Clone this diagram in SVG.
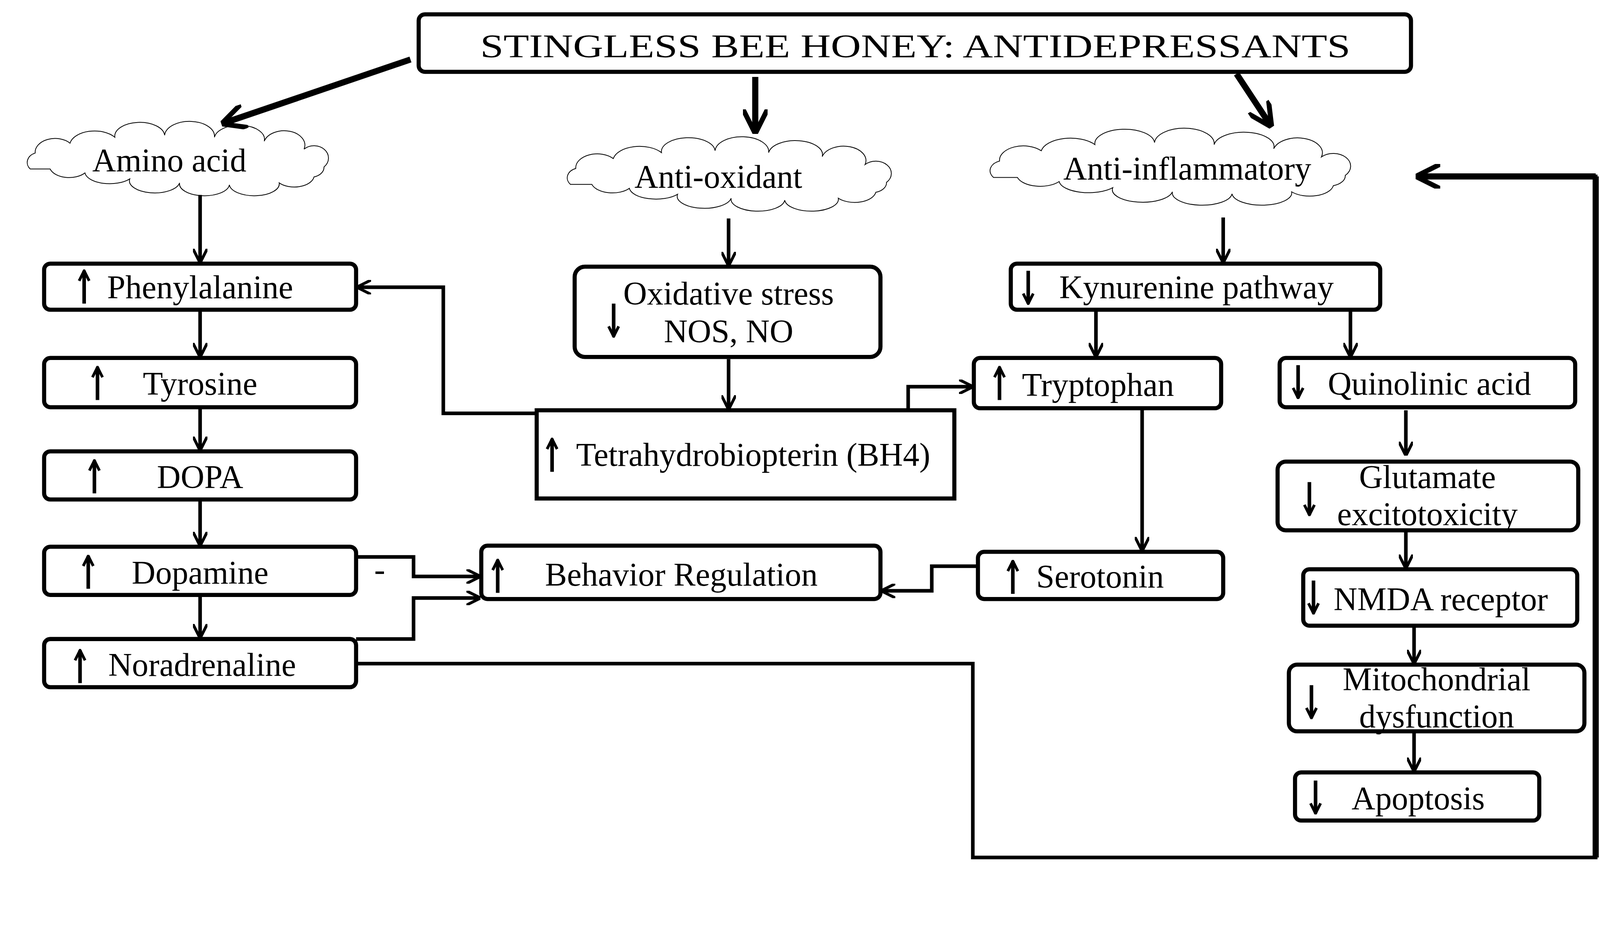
<svg xmlns="http://www.w3.org/2000/svg" width="4390" height="2387" viewBox="0 0 4390 2387">
<style>
.b{fill:#fff;stroke:#000;stroke-width:4}
.t{font-family:"Liberation Serif",serif;font-size:32px;fill:#000}
.c{fill:none;stroke:#000;stroke-width:3.5}
.k{fill:none;stroke:#000;stroke-width:6}
.cl{fill:#fff;stroke:#000;stroke-width:2;vector-effect:non-scaling-stroke}
</style>
<defs>
<marker id="a" viewBox="0 0 10 10" refX="9" refY="5" markerWidth="4" markerHeight="4" orient="auto-start-reverse"><path d="M0,0L10,5L0,10" fill="none" stroke="#000" stroke-width="2"/></marker>
<marker id="s" viewBox="0 0 10 10" refX="9" refY="5" markerWidth="3.5" markerHeight="3.5" orient="auto"><path d="M1,1L9,5L1,9" fill="none" stroke="#000" stroke-width="2.2"/></marker>
<symbol id="cloud" viewBox="0 0 340 60" preserveAspectRatio="none" overflow="visible"><path class="cl" d="M20,38a12,10 0 0 1 5,-16a20,14 0 0 1 35,-10a25,15 0 0 1 45,-6a25,14 0 0 1 50,-2a25,15 0 0 1 50,2a25,14 0 0 1 50,4a20,14 0 0 1 40,8a14,12 0 0 1 20,18a14,10 0 0 1 -10,10a20,12 0 0 1 -35,6a25,12 0 0 1 -50,2a25,12 0 0 1 -50,-2a25,12 0 0 1 -50,-4a25,12 0 0 1 -45,-6a20,12 0 0 1 -35,-4Z"/></symbol>
<g id="up"><line x1="0" y1="34" x2="0" y2="2" stroke="#000" stroke-width="3.5" marker-end="url(#s)"/></g>
<g id="dn"><line x1="0" y1="0" x2="0" y2="32" stroke="#000" stroke-width="3.5" marker-end="url(#s)"/></g>
</defs>
<rect width="4390" height="2387" fill="#fff"/>
<g transform="scale(2.627)">
<g id="title"><rect class="b" x="408" y="14" width="967" height="56" rx="6" stroke-width="2"/><text class="t" x="892" y="56" text-anchor="middle" font-size="42" textLength="848" lengthAdjust="spacingAndGlyphs">STINGLESS BEE HONEY: ANTIDEPRESSANTS</text></g>
<g id="amino"><use href="#cloud" x="10" y="128" width="330" height="58"/><text class="t" x="165" y="167" text-anchor="middle">Amino acid</text></g>
<g id="antiox"><use href="#cloud" x="535" y="143" width="355" height="58"/><text class="t" x="700" y="183" text-anchor="middle">Anti-oxidant</text></g>
<g id="antiinf"><use href="#cloud" x="945" y="135" width="395" height="60"/><text class="t" x="1157" y="175" text-anchor="middle">Anti-inflammatory</text></g>
<g id="phe"><rect class="b" x="43" y="257" width="304" height="45" rx="6"/><use href="#up" x="82" y="262"/><text class="t" x="195" y="291" text-anchor="middle">Phenylalanine</text></g>
<g id="tyr"><rect class="b" x="43" y="349" width="304" height="48" rx="6"/><use href="#up" x="95" y="356"/><text class="t" x="195" y="385" text-anchor="middle">Tyrosine</text></g>
<g id="dopa"><rect class="b" x="43" y="440" width="304" height="47" rx="6"/><use href="#up" x="92" y="447"/><text class="t" x="195" y="476" text-anchor="middle">DOPA</text></g>
<g id="dopamine"><rect class="b" x="43" y="533" width="304" height="47" rx="6"/><use href="#up" x="86" y="540"/><text class="t" x="195" y="569" text-anchor="middle">Dopamine</text></g>
<g id="nor"><rect class="b" x="43" y="623" width="304" height="47" rx="6"/><use href="#up" x="78" y="632"/><text class="t" x="197" y="659" text-anchor="middle">Noradrenaline</text></g>
<g id="ox"><rect class="b" x="560" y="260" width="298" height="88" rx="10"/><use href="#dn" x="598" y="296"/><text class="t" x="710" y="297" text-anchor="middle">Oxidative stress</text><text class="t" x="710" y="334" text-anchor="middle">NOS, NO</text></g>
<g id="bh4"><rect class="b" x="523" y="400" width="407" height="86" stroke-width="4.5"/><use href="#up" x="538" y="426"/><text class="t" x="734" y="454" text-anchor="middle">Tetrahydrobiopterin (BH4)</text></g>
<g id="beh"><rect class="b" x="469" y="532" width="389" height="52" rx="6"/><use href="#up" x="485" y="544"/><text class="t" x="664" y="571" text-anchor="middle">Behavior Regulation</text></g>
<g id="kyn"><rect class="b" x="985" y="257" width="360" height="45" rx="6"/><use href="#dn" x="1002" y="264"/><text class="t" x="1166" y="291" text-anchor="middle">Kynurenine pathway</text></g>
<g id="trp"><rect class="b" x="949" y="349" width="241" height="49" rx="6"/><use href="#up" x="974" y="356"/><text class="t" x="1070" y="386" text-anchor="middle">Tryptophan</text></g>
<g id="qui"><rect class="b" x="1247" y="349" width="288" height="48" rx="6"/><use href="#dn" x="1265" y="356"/><text class="t" x="1393" y="385" text-anchor="middle">Quinolinic acid</text></g>
<g id="ser"><rect class="b" x="953" y="538" width="239" height="46" rx="6"/><use href="#up" x="987" y="545"/><text class="t" x="1072" y="573" text-anchor="middle">Serotonin</text></g>
<g id="glu"><rect class="b" x="1245" y="450" width="293" height="67" rx="8"/><use href="#dn" x="1276" y="470"/><text class="t" x="1391" y="476" text-anchor="middle">Glutamate</text><text class="t" x="1391" y="512" text-anchor="middle">excitotoxicity</text></g>
<g id="nmda"><rect class="b" x="1270" y="555" width="267" height="55" rx="6"/><use href="#dn" x="1280" y="566"/><text class="t" x="1404" y="595" text-anchor="middle">NMDA receptor</text></g>
<g id="mito"><rect class="b" x="1256" y="648" width="288" height="65" rx="8"/><use href="#dn" x="1278" y="668"/><text class="t" x="1400" y="673" text-anchor="middle">Mitochondrial</text><text class="t" x="1400" y="709" text-anchor="middle">dysfunction</text></g>
<g id="apo"><rect class="b" x="1262" y="753" width="238" height="47" rx="6"/><use href="#dn" x="1282" y="761"/><text class="t" x="1382" y="789" text-anchor="middle">Apoptosis</text></g>
<g id="connectors">
<path class="k" d="M400,58L218,120" marker-end="url(#a)"/>
<path class="k" d="M736,75V128" marker-end="url(#a)"/>
<path class="k" d="M1205,72L1238,122" marker-end="url(#a)"/>
<path class="c" d="M195,190V255" marker-end="url(#a)"/>
<path class="c" d="M195,302V347" marker-end="url(#a)"/>
<path class="c" d="M195,397V438" marker-end="url(#a)"/>
<path class="c" d="M195,487V531" marker-end="url(#a)"/>
<path class="c" d="M195,580V621" marker-end="url(#a)"/>
<path class="c" d="M710,213V258" marker-end="url(#a)"/>
<path class="c" d="M710,350V398" marker-end="url(#a)"/>
<path class="c" d="M523,403H432V280H349" marker-end="url(#a)"/>
<path class="c" d="M885,400V377H947" marker-end="url(#a)"/>
<path class="c" d="M1192,212V255" marker-end="url(#a)"/>
<path class="c" d="M1068,302V347" marker-end="url(#a)"/>
<path class="c" d="M1316,302V347" marker-end="url(#a)"/>
<path class="c" d="M1113,398V536" marker-end="url(#a)"/>
<path class="c" d="M953,552H908V576H860" marker-end="url(#a)"/>
<path class="c" d="M347,543H403V562H467" marker-end="url(#a)"/>
<path class="c" d="M347,623H403V583H467" marker-end="url(#a)"/>
<path class="c" d="M1370,400V443" marker-end="url(#a)"/>
<path class="c" d="M1370,517V553" marker-end="url(#a)"/>
<path class="c" d="M1378,610V646" marker-end="url(#a)"/>
<path class="c" d="M1378,713V751" marker-end="url(#a)"/>
<path class="c" d="M347,647H948V836H1555V172H1382" stroke-width="3.5"/>
<path class="k" d="M1555,172H1382" marker-end="url(#a)"/>
<path class="k" d="M1555,172V836"/>
<text class="t" x="370" y="566" text-anchor="middle" font-size="22">-</text>
</g>
</g>
</svg>
